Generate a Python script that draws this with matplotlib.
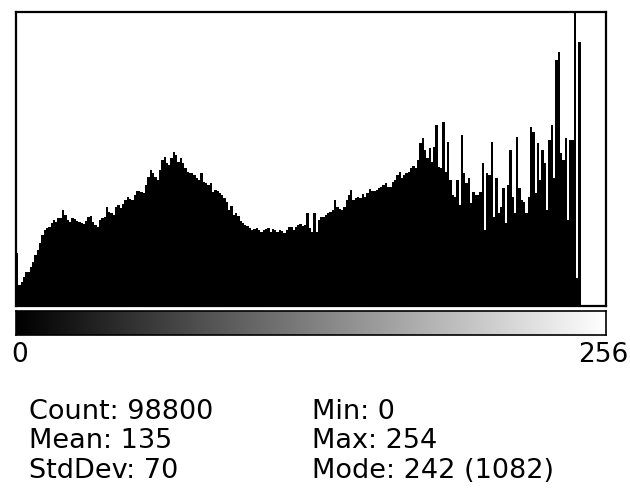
import numpy as np
import matplotlib
matplotlib.use("Agg")
import matplotlib.pyplot as plt

# histogram counts per grey level (0..255)
counts = [
    194, 77, 90, 108, 126, 126, 145, 163, 188, 206,
    231, 261, 280, 286, 292, 304, 316, 310, 323, 323,
    353, 335, 316, 310, 323, 319, 314, 310, 307, 302,
    314, 326, 331, 310, 298, 292, 316, 323, 329, 363,
    347, 341, 335, 366, 372, 359, 375, 390, 402, 393,
    390, 408, 424, 424, 421, 415, 445, 476, 500, 491,
    476, 464, 500, 537, 550, 525, 519, 543, 568, 556,
    531, 543, 525, 507, 494, 488, 488, 482, 470, 464,
    488, 458, 451, 445, 451, 421, 427, 424, 417, 408,
    396, 384, 353, 368, 335, 341, 331, 314, 304, 298,
    294, 286, 280, 282, 286, 280, 274, 280, 282, 286,
    274, 282, 280, 274, 280, 277, 267, 280, 290, 290,
    280, 292, 298, 302, 294, 298, 343, 286, 274, 341,
    274, 316, 326, 329, 335, 341, 347, 353, 390, 363,
    356, 353, 366, 390, 408, 427, 390, 396, 402, 396,
    411, 402, 415, 429, 424, 424, 427, 433, 437, 445,
    451, 439, 437, 458, 464, 482, 494, 470, 482, 488,
    494, 507, 515, 507, 537, 599, 617, 574, 543, 580,
    531, 586, 666, 513, 507, 678, 494, 605, 464, 408,
    402, 464, 372, 629, 488, 451, 470, 378, 421, 408,
    408, 421, 525, 280, 488, 482, 605, 329, 470, 341,
    366, 433, 304, 445, 574, 402, 341, 623, 433, 390,
    384, 341, 402, 660, 641, 415, 599, 464, 574, 525,
    353, 611, 666, 470, 905, 936, 562, 537, 617, 316,
    611, 611, 1082, 103, 973, 3, 2, 2, 1, 1,
    1, 1, 1, 1, 1, 0,
]
levels = np.arange(256)

stats_left = ["Count: 98800", "Mean: 135", "StdDev: 70"]
stats_right = ["Min: 0", "Max: 254", "Mode: 242 (1082)"]

W, H = 630, 493
fig = plt.figure(figsize=(W / 100, H / 100), dpi=100)
plt.rcParams['font.family'] = ['DejaVu Sans']

# histogram box
ax = fig.add_axes([16 / W, 1 - 306 / H, 590 / W, 294 / H])
ax.bar(levels, counts, width=1, align='edge', color='black', linewidth=0)
ax.set_xlim(0, 256)
ax.set_ylim(0, max(counts))
ax.set_xticks([])
ax.set_yticks([])
for s in ax.spines.values():
    s.set_linewidth(1.6)

# grey ramp
cax = fig.add_axes([16 / W, 1 - 335 / H, 590 / W, 24 / H])
cax.imshow(levels[np.newaxis, :], cmap='gray', aspect='auto',
           extent=(0, 256, 0, 1), vmin=0, vmax=255)
cax.set_xticks([])
cax.set_yticks([])
for s in cax.spines.values():
    s.set_linewidth(1.2)

fig.text(11 / W, 1 - 355 / H, "0", fontsize=19, va='center', ha='left')
fig.text(628 / W, 1 - 355 / H, "256", fontsize=19, va='center', ha='right')

for i, (a, b) in enumerate(zip(stats_left, stats_right)):
    y = 1 - (412 + 29.5 * i) / H
    fig.text(29 / W, y, a, fontsize=19.5, va='center', ha='left')
    fig.text(312 / W, y, b, fontsize=19.5, va='center', ha='left')

fig.savefig("out.png", dpi=100)
